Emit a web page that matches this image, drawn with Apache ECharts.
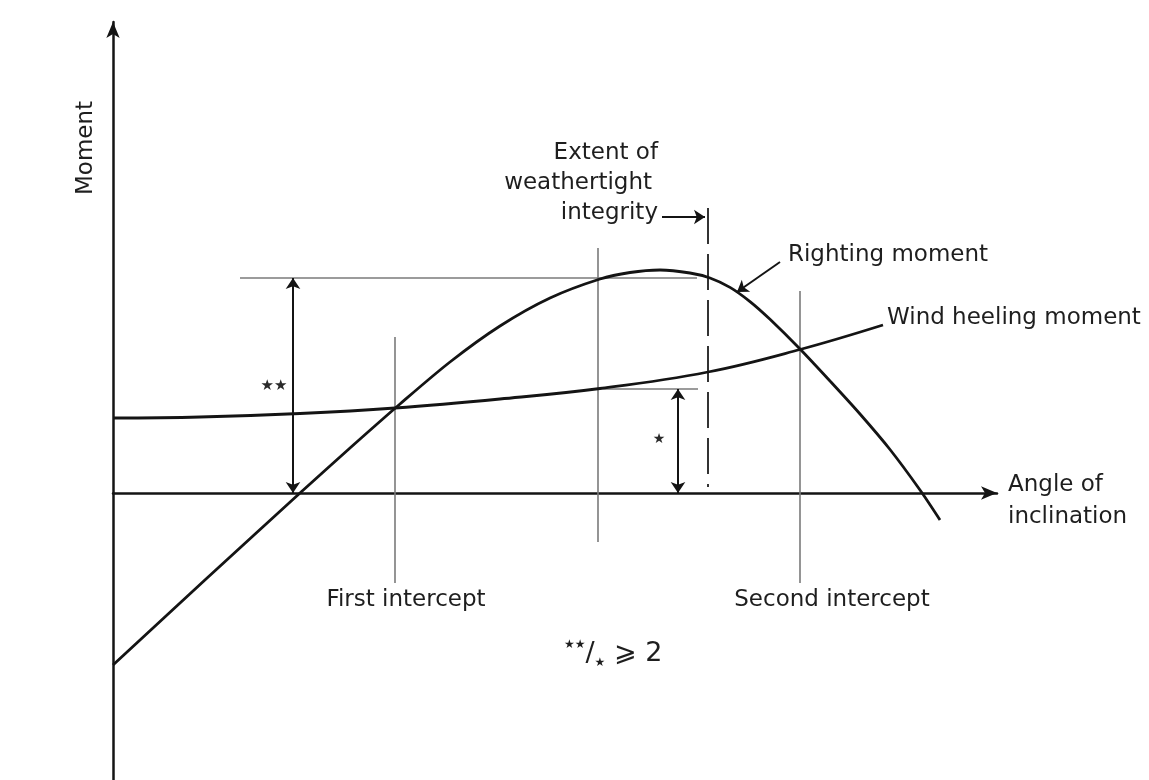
<!DOCTYPE html>
<html><head><meta charset="utf-8">
<script src="https://cdn.jsdelivr.net/npm/echarts@6/dist/echarts.min.js"></script>
<style>html,body{margin:0;padding:0;background:#fff}#c{width:1149px;height:780px}</style>
</head><body><div id="c"></div>
<script>
// Angle of inclination (x) vs moment (y), schematic units
const rightingX = [0, 93, 187, 237, 287, 337, 387, 437, 487, 517, 547, 577, 597, 617, 637, 657, 687, 717, 747, 777, 807, 827];
const rightingY = [-172, -86, 0, 45, 89, 131, 167, 195, 214, 220.5, 223, 220, 215, 205.6, 191.4, 173.7, 144, 112, 79, 43.5, 3, -27];
const windX = [0, 87, 187, 282, 387, 487, 595, 687, 770];
const windY = [75, 76, 79.5, 85, 94, 104.5, 121, 143.5, 168];
// reference angles / levels
const firstIntercept = 282, secondIntercept = 687, refAngle = 485, weathertightAngle = 595;
const refRighting = 215, refWind = 104;
const arrowBigX = 180, arrowSmallX = 565;

const ink = '#141414', grey = '#7a7a7a', txt = '#1e1e1e';
const FF = '"DejaVu Sans", "Liberation Sans", sans-serif';

const chart = echarts.init(document.getElementById('c'), null, {renderer: 'canvas'});
function ml(data, style, symbol, symbolSize) {
  return {type: 'line', data: [], silent: true, markLine: {
    silent: true, animation: false, symbol: symbol || ['none', 'none'], symbolSize: symbolSize || 10,
    label: {show: false}, emphasis: {disabled: true}, lineStyle: style, data: data }};
}
const seg = (x1, y1, x2, y2) => [{coord: [x1, y1]}, {coord: [x2, y2]}];

const axisBase = {
  type: 'value', axisTick: {show: false}, axisLabel: {show: false}, splitLine: {show: false},
  axisLine: {show: true, onZero: true, symbol: ['none', 'arrow'], symbolSize: [10, 16],
    lineStyle: {color: ink, width: 2.5}}
};

const text = (t, x, y, extra) => ({type: 'text', x: x, y: y, silent: true, z: 100,
  style: Object.assign({text: t, fontSize: 23, fontFamily: FF, fill: txt, align: 'left', verticalAlign: 'middle'}, extra || {})});

chart.setOption({
  animation: false,
  backgroundColor: '#fff',
  grid: {left: 113, right: 152, top: 22, bottom: 0, containLabel: false},
  xAxis: Object.assign({}, axisBase, {min: 0, max: 884}),
  yAxis: Object.assign({}, axisBase, {min: -287, max: 471}),
  series: [
    {type: 'line', name: 'Righting moment', data: rightingX.map((x, i) => [x, rightingY[i]]),
      smooth: 0.3, showSymbol: false, silent: true, z: 5, lineStyle: {color: ink, width: 2.8}},
    {type: 'line', name: 'Wind heeling moment', data: windX.map((x, i) => [x, windY[i]]),
      smooth: 0.4, showSymbol: false, silent: true, z: 5, lineStyle: {color: ink, width: 2.8}},
    ml([
      seg(firstIntercept, 156, firstIntercept, -90),
      seg(refAngle, 245, refAngle, -49),
      seg(secondIntercept, 202, secondIntercept, -90),
      seg(127, refRighting, 584, refRighting),
      seg(refAngle, refWind, 585, refWind)
    ], {color: grey, width: 1.6, type: 'solid'}),
    ml([seg(weathertightAngle, 285, weathertightAngle, 6)], {color: '#333', width: 2, type: [36, 10]}),
    ml([seg(arrowBigX, 0, arrowBigX, refRighting), seg(arrowSmallX, 0, arrowSmallX, refWind)],
      {color: ink, width: 2, type: 'solid'}, ['arrow', 'arrow'], 11),
    ml([seg(549, 276, 592, 276), seg(667, 231, 624, 201)],
      {color: ink, width: 2, type: 'solid'}, ['none', 'arrow'], 11)
  ],
  graphic: [
    text('Moment', 86, 148, {align: 'center'}),
    text('Extent of', 658, 153, {align: 'right'}),
    text('weathertight', 652, 183, {align: 'right'}),
    text('integrity', 658, 213, {align: 'right'}),
    text('Righting moment', 788, 255),
    text('Wind heeling moment', 887, 318),
    text('Angle of', 1008, 485),
    text('inclination', 1008, 517),
    text('First intercept', 406, 600, {align: 'center'}),
    text('Second intercept', 832, 600, {align: 'center'}),
    text('★★', 274, 386, {align: 'center', fontSize: 15, fill: '#2a2a2a'}),
    text('★', 659, 439, {align: 'center', fontSize: 14, fill: '#2a2a2a'}),
    {type: 'text', x: 564, y: 654, silent: true, z: 100, style: {
      text: '{s|★★}{n|/}{b|★}{n| ⩾ 2}', fontFamily: FF, fill: txt, align: 'left', verticalAlign: 'middle',
      rich: {
        s: {fontSize: 12, fontFamily: FF, fill: txt, verticalAlign: 'top', lineHeight: 30},
        b: {fontSize: 12, fontFamily: FF, fill: txt, verticalAlign: 'bottom', lineHeight: 30},
        n: {fontSize: 27, fontFamily: FF, fill: txt, lineHeight: 30}
      }}}
  ]
});
chart.setOption({graphic: [{rotation: Math.PI / 2}]});
</script></body></html>
